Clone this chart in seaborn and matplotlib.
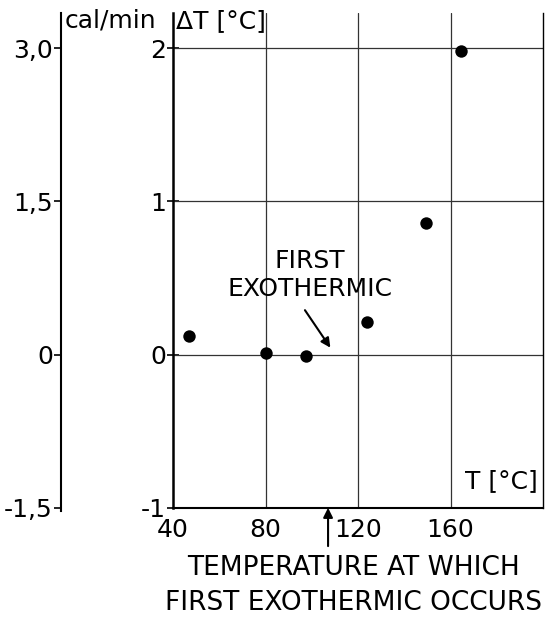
import matplotlib
matplotlib.use("Agg")
import matplotlib.pyplot as plt
import seaborn as sns
import pandas as pd

# data
temperature = [47, 80, 97.5, 124, 149.5, 164.5]
delta_t = [0.12, 0.01, -0.01, 0.21, 0.86, 1.98]
x_ticks = [40, 80, 120, 160]
y_ticks = [-1, 0, 1, 2]
y_tick_labels = ["-1", "0", "1", "2"]
cal_ticks = [-1.5, 0, 1.5, 3.0]
cal_tick_labels = ["-1,5", "0", "1,5", "3,0"]
first_exo_T = 107

df = pd.DataFrame({"T": temperature, "dT": delta_t})

sns.set_style("white")
plt.rcParams["font.family"] = ["DejaVu Sans"]
plt.rcParams["text.color"] = "black"
plt.rcParams["xtick.color"] = "black"
plt.rcParams["ytick.color"] = "black"
plt.rcParams["axes.edgecolor"] = "black"
FS = 18

fig = plt.figure(figsize=(5.48, 6.17), dpi=100)
ax = fig.add_axes([0.316, 0.177, 0.675, 0.802])

sns.scatterplot(data=df, x="T", y="dT", ax=ax, color="black", s=80,
                edgecolor="black", linewidth=0, zorder=5)

ax.set_xlim(40, 200)
ax.set_ylim(-1, 2.23)
ax.set_xticks(x_ticks)
ax.set_xticklabels([str(v) for v in x_ticks], fontsize=FS)
ax.set_yticks(y_ticks)
ax.set_yticklabels(y_tick_labels, fontsize=FS)
ax.set_xlabel("")
ax.set_ylabel("")
for v in [80, 120, 160]:
    ax.axvline(v, color="#333333", lw=0.9, zorder=1)
for v in [0, 1, 2]:
    ax.axhline(v, color="#333333", lw=0.9, zorder=1)
ax.spines["top"].set_visible(False)
ax.spines["right"].set_linewidth(1.0)
ax.spines["left"].set_linewidth(1.8)
ax.spines["bottom"].set_linewidth(1.5)
ax.tick_params(axis="x", direction="inout", length=8, width=1.2, colors="black", pad=3)
ax.tick_params(axis="y", direction="inout", length=8, width=1.2, colors="black", pad=1)

# secondary cal/min axis on the far left
ax2 = ax.twinx()
ax2.set_ylim(-1 * 1.5, 2.23 * 1.5)
ax2.yaxis.set_ticks_position("left")
ax2.yaxis.set_label_position("left")
ax2.spines["left"].set_position(("axes", -0.303))
ax2.spines["left"].set_visible(True)
ax2.spines["left"].set_linewidth(1.5)
ax2.spines["left"].set_bounds(-1.53, 2.23 * 1.5)
for s in ["right", "top", "bottom"]:
    ax2.spines[s].set_visible(False)
ax2.set_yticks(cal_ticks)
ax2.set_yticklabels(cal_tick_labels, fontsize=FS)
ax2.tick_params(axis="y", direction="out", length=5, width=1.2, pad=1)

# axis titles
fig.text(0.118, 0.966, "cal/min", fontsize=FS, ha="left", va="center")
fig.text(0.322, 0.966, "ΔT [°C]", fontsize=FS, ha="left", va="center")
ax.text(0.985, 0.03, "T [°C]", transform=ax.transAxes, fontsize=FS,
        ha="right", va="bottom")

# annotation
ax.text(99, 0.52, "FIRST\nEXOTHERMIC", fontsize=FS, ha="center", va="center",
        linespacing=1.2, zorder=6)
ax.annotate("", xy=(108, 0.045), xytext=(97, 0.29),
            arrowprops=dict(arrowstyle="-|>", color="black", lw=1.5,
                            shrinkA=0, shrinkB=0, mutation_scale=14),
            zorder=6)
ax.annotate("", xy=(first_exo_T, -1.0), xytext=(first_exo_T, -1.25),
            xycoords="data", textcoords="data", annotation_clip=False,
            arrowprops=dict(arrowstyle="-|>", color="black", lw=1.5,
                            shrinkA=0, shrinkB=0, mutation_scale=14))

fig.text(0.645, 0.079, "TEMPERATURE AT WHICH", fontsize=19, ha="center", va="center")
fig.text(0.645, 0.023, "FIRST EXOTHERMIC OCCURS", fontsize=19, ha="center", va="center")

fig.savefig("out.png", dpi=100)
